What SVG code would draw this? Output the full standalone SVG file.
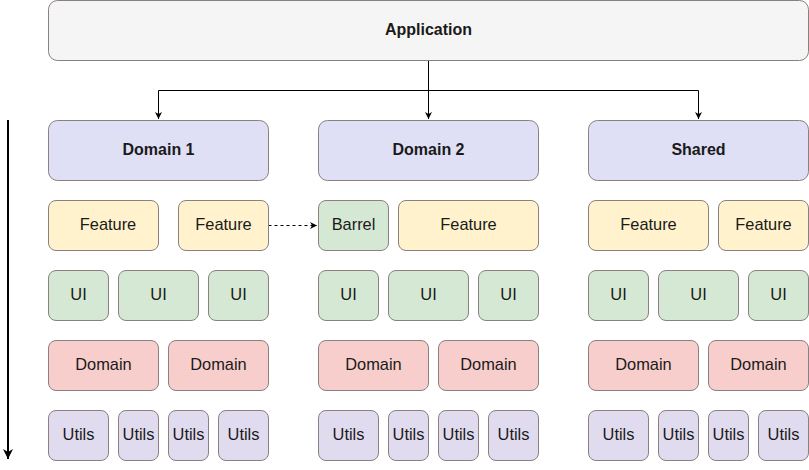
<svg xmlns="http://www.w3.org/2000/svg" width="809" height="470" viewBox="0 0 809 470">
<defs>
<marker id="ah" markerWidth="8" markerHeight="8" refX="7" refY="4" orient="auto" markerUnits="userSpaceOnUse"><path d="M0,0.5 L7,4 L0,7.5 L2,4 Z" fill="#000"/></marker>
<marker id="ahb" markerWidth="12" markerHeight="12" refX="10" refY="5" orient="auto" markerUnits="userSpaceOnUse"><path d="M0,0 L10,5 L0,10 L3,5 Z" fill="#000"/></marker>
</defs>
<style>
rect{stroke:#8a8080;stroke-width:1}
.app{fill:#f5f5f5}
.top{fill:#dfe0f5}
.feat{fill:#fff2cc}
.ui{fill:#d5e8d4}
.dom{fill:#f8cecc}
.ut{fill:#e1dbf0}
text{font-family:"Liberation Sans",Arial,sans-serif;font-size:16.4px;fill:#1a1a1a;text-anchor:middle}
.b{font-weight:bold;font-size:16px}
.c{fill:none;stroke:#000;stroke-width:1}
</style>
<g id="connectors">
<path class="c" d="M428.5,60.5 V119" marker-end="url(#ah)"/>
<path class="c" d="M428.5,90.5 H158.5 V119" marker-end="url(#ah)"/>
<path class="c" d="M428.5,90.5 H698.5 V119" marker-end="url(#ah)"/>
<path class="c" d="M268.5,225.5 H317" stroke-dasharray="3,3" marker-end="url(#ah)"/>
<path class="c" d="M8,120 V459" style="stroke-width:2" marker-end="url(#ahb)"/>
</g>
<g id="application"><rect class="app" x="48.5" y="0.5" width="760" height="60" rx="9"/><text class="b" x="428.5" y="34.5">Application</text></g>
<g id="domain1"><rect class="top" x="48.5" y="120.5" width="220" height="60" rx="9"/><text class="b" x="158.5" y="155">Domain 1</text></g>
<g id="domain2"><rect class="top" x="318.5" y="120.5" width="220" height="60" rx="9"/><text class="b" x="428.5" y="155">Domain 2</text></g>
<g id="shared"><rect class="top" x="588.5" y="120.5" width="220" height="60" rx="9"/><text class="b" x="698.5" y="155">Shared</text></g>

<g id="d1-feature1"><rect class="feat" x="48.5" y="200.5" width="110" height="50" rx="7.5"/><text x="108" y="230">Feature</text></g>
<g id="d1-feature2"><rect class="feat" x="178.5" y="200.5" width="90" height="50" rx="7.5"/><text x="223.5" y="230">Feature</text></g>
<g id="d2-barrel"><rect class="ui" x="318.5" y="200.5" width="70" height="50" rx="7.5"/><text x="353.5" y="230">Barrel</text></g>
<g id="d2-feature"><rect class="feat" x="398.5" y="200.5" width="140" height="50" rx="7.5"/><text x="468.5" y="230">Feature</text></g>
<g id="s-feature1"><rect class="feat" x="588.5" y="200.5" width="120" height="50" rx="7.5"/><text x="648.5" y="230">Feature</text></g>
<g id="s-feature2"><rect class="feat" x="718.5" y="200.5" width="90" height="50" rx="7.5"/><text x="763.5" y="230">Feature</text></g>

<g id="d1-ui1"><rect class="ui" x="48.5" y="270.5" width="60" height="50" rx="7.5"/><text x="78.5" y="300">UI</text></g>
<g id="d1-ui2"><rect class="ui" x="118.5" y="270.5" width="80" height="50" rx="7.5"/><text x="158.5" y="300">UI</text></g>
<g id="d1-ui3"><rect class="ui" x="208.5" y="270.5" width="60" height="50" rx="7.5"/><text x="238.5" y="300">UI</text></g>
<g id="d2-ui1"><rect class="ui" x="318.5" y="270.5" width="60" height="50" rx="7.5"/><text x="348.5" y="300">UI</text></g>
<g id="d2-ui2"><rect class="ui" x="388.5" y="270.5" width="80" height="50" rx="7.5"/><text x="428.5" y="300">UI</text></g>
<g id="d2-ui3"><rect class="ui" x="478.5" y="270.5" width="60" height="50" rx="7.5"/><text x="508.5" y="300">UI</text></g>
<g id="s-ui1"><rect class="ui" x="588.5" y="270.5" width="60" height="50" rx="7.5"/><text x="618.5" y="300">UI</text></g>
<g id="s-ui2"><rect class="ui" x="658.5" y="270.5" width="80" height="50" rx="7.5"/><text x="698.5" y="300">UI</text></g>
<g id="s-ui3"><rect class="ui" x="748.5" y="270.5" width="60" height="50" rx="7.5"/><text x="778.5" y="300">UI</text></g>

<g id="d1-domain1"><rect class="dom" x="48.5" y="340.5" width="110" height="50" rx="7.5"/><text x="103.5" y="370">Domain</text></g>
<g id="d1-domain2"><rect class="dom" x="168.5" y="340.5" width="100" height="50" rx="7.5"/><text x="218.5" y="370">Domain</text></g>
<g id="d2-domain1"><rect class="dom" x="318.5" y="340.5" width="110" height="50" rx="7.5"/><text x="373.5" y="370">Domain</text></g>
<g id="d2-domain2"><rect class="dom" x="438.5" y="340.5" width="100" height="50" rx="7.5"/><text x="488.5" y="370">Domain</text></g>
<g id="s-domain1"><rect class="dom" x="588.5" y="340.5" width="110" height="50" rx="7.5"/><text x="643.5" y="370">Domain</text></g>
<g id="s-domain2"><rect class="dom" x="708.5" y="340.5" width="100" height="50" rx="7.5"/><text x="758.5" y="370">Domain</text></g>

<g id="d1-utils1"><rect class="ut" x="48.5" y="410.5" width="60" height="50" rx="7.5"/><text x="78.5" y="440">Utils</text></g>
<g id="d1-utils2"><rect class="ut" x="118.5" y="410.5" width="40" height="50" rx="7.5"/><text x="138.5" y="440">Utils</text></g>
<g id="d1-utils3"><rect class="ut" x="168.5" y="410.5" width="40" height="50" rx="7.5"/><text x="188.5" y="440">Utils</text></g>
<g id="d1-utils4"><rect class="ut" x="218.5" y="410.5" width="50" height="50" rx="7.5"/><text x="243.5" y="440">Utils</text></g>
<g id="d2-utils1"><rect class="ut" x="318.5" y="410.5" width="60" height="50" rx="7.5"/><text x="348.5" y="440">Utils</text></g>
<g id="d2-utils2"><rect class="ut" x="388.5" y="410.5" width="40" height="50" rx="7.5"/><text x="408.5" y="440">Utils</text></g>
<g id="d2-utils3"><rect class="ut" x="438.5" y="410.5" width="40" height="50" rx="7.5"/><text x="458.5" y="440">Utils</text></g>
<g id="d2-utils4"><rect class="ut" x="488.5" y="410.5" width="50" height="50" rx="7.5"/><text x="513.5" y="440">Utils</text></g>
<g id="s-utils1"><rect class="ut" x="588.5" y="410.5" width="60" height="50" rx="7.5"/><text x="618.5" y="440">Utils</text></g>
<g id="s-utils2"><rect class="ut" x="658.5" y="410.5" width="40" height="50" rx="7.5"/><text x="678.5" y="440">Utils</text></g>
<g id="s-utils3"><rect class="ut" x="708.5" y="410.5" width="40" height="50" rx="7.5"/><text x="728.5" y="440">Utils</text></g>
<g id="s-utils4"><rect class="ut" x="758.5" y="410.5" width="50" height="50" rx="7.5"/><text x="783.5" y="440">Utils</text></g>
</svg>
